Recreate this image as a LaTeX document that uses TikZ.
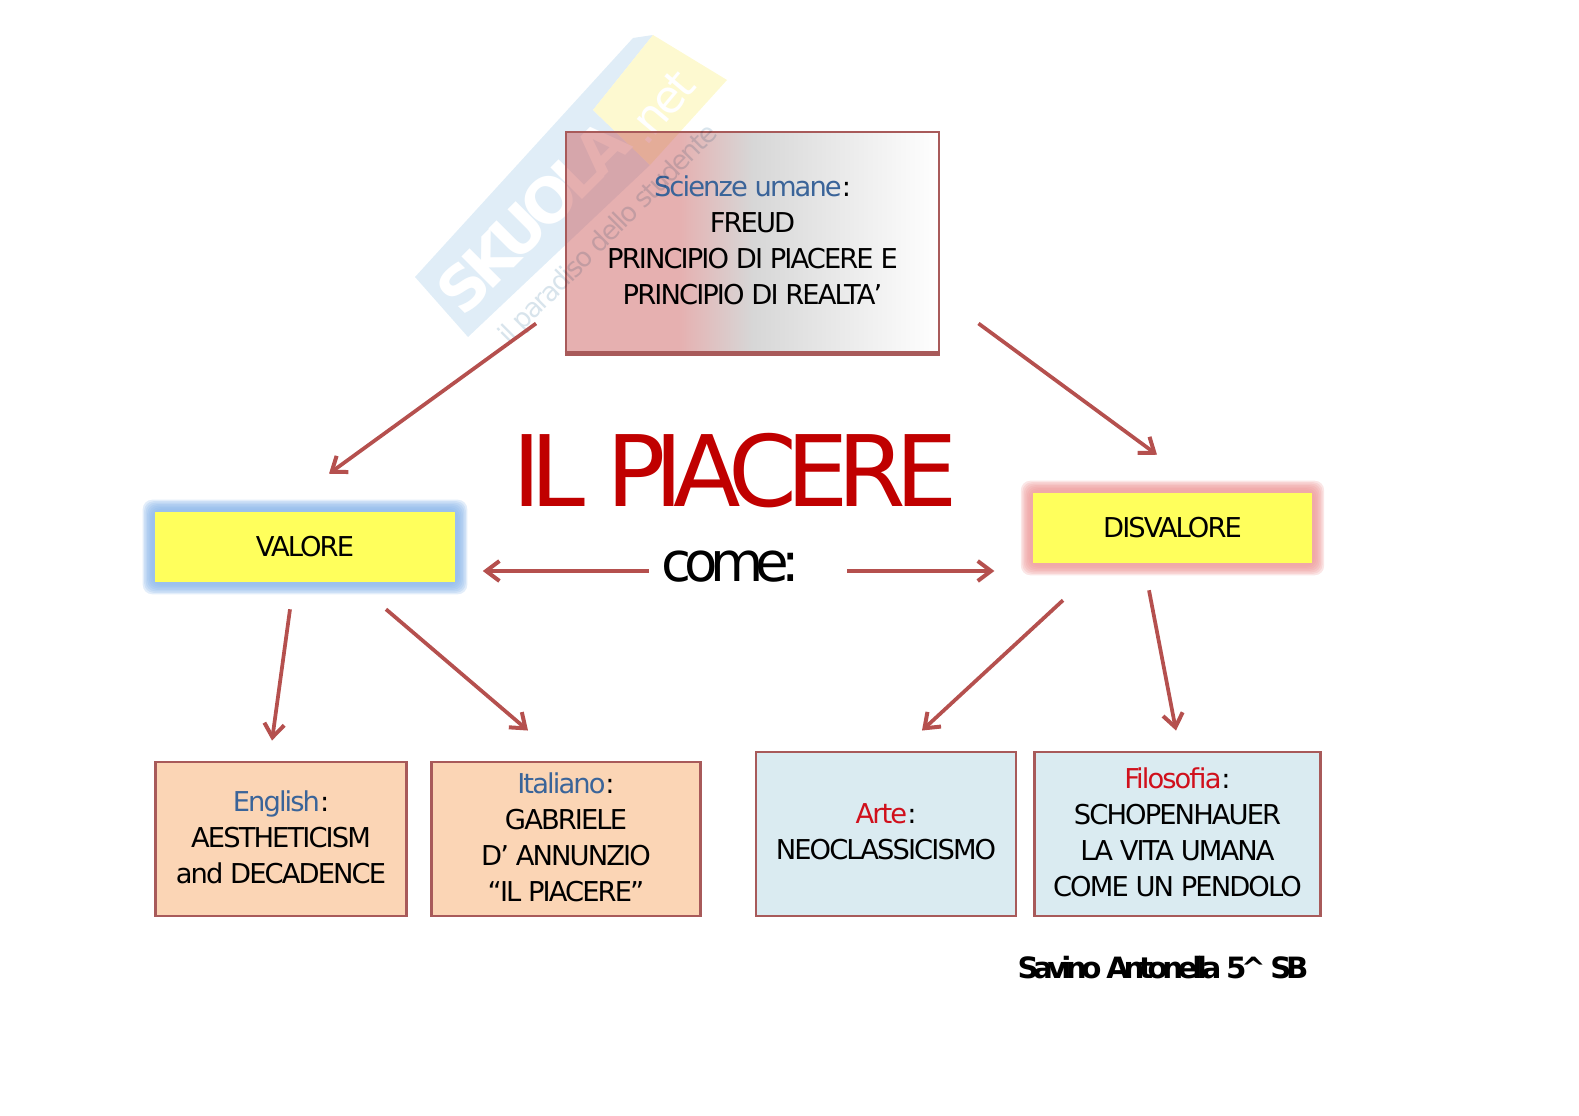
\documentclass[tikz,border=0pt]{standalone}
\usepackage{fontspec}
\setmainfont{DejaVu Sans}[LetterSpace=-7]
\usepackage{tikz}
\usetikzlibrary{arrows.meta,backgrounds}

\definecolor{bluehead}{HTML}{3A6499}
\definecolor{redhead}{HTML}{D0101C}
\definecolor{titlered}{HTML}{C00000}
\definecolor{edgered}{HTML}{A85A5A}
\definecolor{arrowred}{HTML}{B5504E}
\definecolor{peach}{HTML}{FBD5B5}
\definecolor{paleblue}{HTML}{DAEBF1}
\definecolor{glowblue}{HTML}{8DB8EA}
\definecolor{glowred}{HTML}{EE9C9C}
\definecolor{keyyellow}{HTML}{FFFF5C}
\definecolor{fadepink}{HTML}{CD6161}
\definecolor{fadegrey}{HTML}{AFAFAF}
\definecolor{wmblue}{HTML}{E0EDF7}
\definecolor{wmyellow}{HTML}{FDF9D0}
\definecolor{wmtext}{HTML}{D8E4EC}

\pgfdeclarehorizontalshading{topfade}{100bp}{color(0bp)=(fadepink); color(40bp)=(fadepink);
  color(50bp)=(fadegrey); color(75bp)=(white); color(100bp)=(white)}

\tikzset{
  box/.style={draw=edgered,line width=2.2pt,align=center,inner sep=0pt,font=\fontsize{20.5}{27}\selectfont,execute at end node={\rule[-3pt]{0pt}{3pt}}},
  keybox/.style={fill=keyyellow,align=center,inner sep=0pt,minimum width=225pt,minimum height=52.5pt,font=\fontsize{20.5}{27}\selectfont},
  arrow/.style={draw=arrowred,line width=2.8pt,-{Straight Barb[length=10pt,width=15pt,line width=3pt]}},
}

\begin{document}
\begin{tikzpicture}[x=.75pt,y=-.75pt]
	\useasboundingbox (0,0) rectangle (1579,1116);

	% watermark
	\fill [wmblue] (415,277) -- (633,38) -- (653,35) -- (593,110) -- (650,165) -- (468,337) -- cycle;
	\fill [wmyellow] (653,35) -- (727,80) -- (650,165) -- (593,110) -- cycle;
	\node (W) [white,rotate=45,font=\bfseries\fontsize{46}{46}\selectfont\addfontfeature{LetterSpace=-12},inner sep=0pt] at (533,217) {SKUOLA};
	\node (W2) [white,rotate=50,font=\fontsize{34}{34}\selectfont,inner sep=0pt] at (660,107) {.net};

	\node (S) [box,shading=topfade,fill opacity=.5,text opacity=1,minimum width=279.75pt,minimum height=165pt] at (752.5,242) {{\color{bluehead}Scienze umane}:\\FREUD\\PRINCIPIO DI PIACERE E\\PRINCIPIO DI REALTA’};
	\draw [edgered,line width=3.4pt] (S.south west) -- (S.south east);

	\begin{scope}[blend mode=multiply]
		\node (W3) [wmtext,rotate=45,font=\fontsize{20}{20}\selectfont,inner sep=0pt] at (609,235) {il paradiso dello studente};
	\end{scope}

	\node (T) [text=titlered,font=\fontsize{74}{74}\selectfont\addfontfeature{LetterSpace=-11},inner sep=0pt] at (735,471) {IL PIACERE};
	\node (C) [font=\fontsize{41}{41}\selectfont\addfontfeature{LetterSpace=-14},inner sep=0pt] at (731,567) {come:};

	\node (V) [keybox] at (305,547) {VALORE};
	\node (D) [keybox,minimum width=209pt] at (1172.5,528) {DISVALORE};

	\node (E) [box,fill=peach,minimum width=188pt,minimum height=115.5pt] at (281,839) {{\color{bluehead}English}:\\AESTHETICISM\\and DECADENCE};
	\node (I) [box,fill=peach,minimum width=201.4pt,minimum height=115.5pt] at (566,839) {{\color{bluehead}Italiano}:\\GABRIELE\\D’ ANNUNZIO\\“IL PIACERE”};
	\node (A) [box,fill=paleblue,minimum width=195pt,minimum height=123pt] at (886,834) {{\color{redhead}Arte}:\\NEOCLASSICISMO};
	\node (F) [box,fill=paleblue,minimum width=215pt,minimum height=123pt] at (1177.5,834) {{\color{redhead}Filosofia}:\\SCHOPENHAUER\\LA VITA UMANA\\COME UN PENDOLO};

	\node (N) [font=\bfseries\fontsize{22}{22}\selectfont\addfontfeature{LetterSpace=-18.5},inner sep=0pt] at (1163,968) {Savino Antonella 5\^{} SB};

	\begin{scope}[on background layer]
		\foreach \g in {12,10.5,9,7.5,6,4.5,3} {
			\fill [glowblue,opacity=.25,rounded corners=7pt] ([shift={(-\g,\g)}]V.south west) rectangle ([shift={(\g,-\g)}]V.north east);
			\fill [glowred,opacity=.25,rounded corners=7pt] ([shift={(-\g,\g)}]D.south west) rectangle ([shift={(\g,-\g)}]D.north east);
		}
	\end{scope}

	\draw [arrow] ([shift={(-28.5,-30)}]S.south west) -- ([shift={(24,-38)}]V.north);
	\draw [arrow] ([shift={(38,-30)}]S.south east) -- ([shift={(-15.5,-38)}]D.north);
	\draw [arrow,line width=3.2pt] ([shift={(-13,4)}]C.west) -- ([shift={(27.5,24)}]V.east);
	\draw [arrow,line width=3.2pt] ([shift={(47,4)}]C.east) -- ([shift={(-38.5,43)}]D.west);
	\draw [arrow] ([shift={(-15,27)}]V.south) -- ([shift={(-9,-20)}]E.north);
	\draw [arrow] ([shift={(81,27)}]V.south) -- ([shift={(-38,-30)}]I.north);
	\draw [arrow] ([shift={(-109.5,37)}]D.south) -- ([shift={(36,-20)}]A.north);
	\draw [arrow] ([shift={(-23.5,27)}]D.south) -- ([shift={(-1.5,-20)}]F.north);
\end{tikzpicture}
\end{document}
